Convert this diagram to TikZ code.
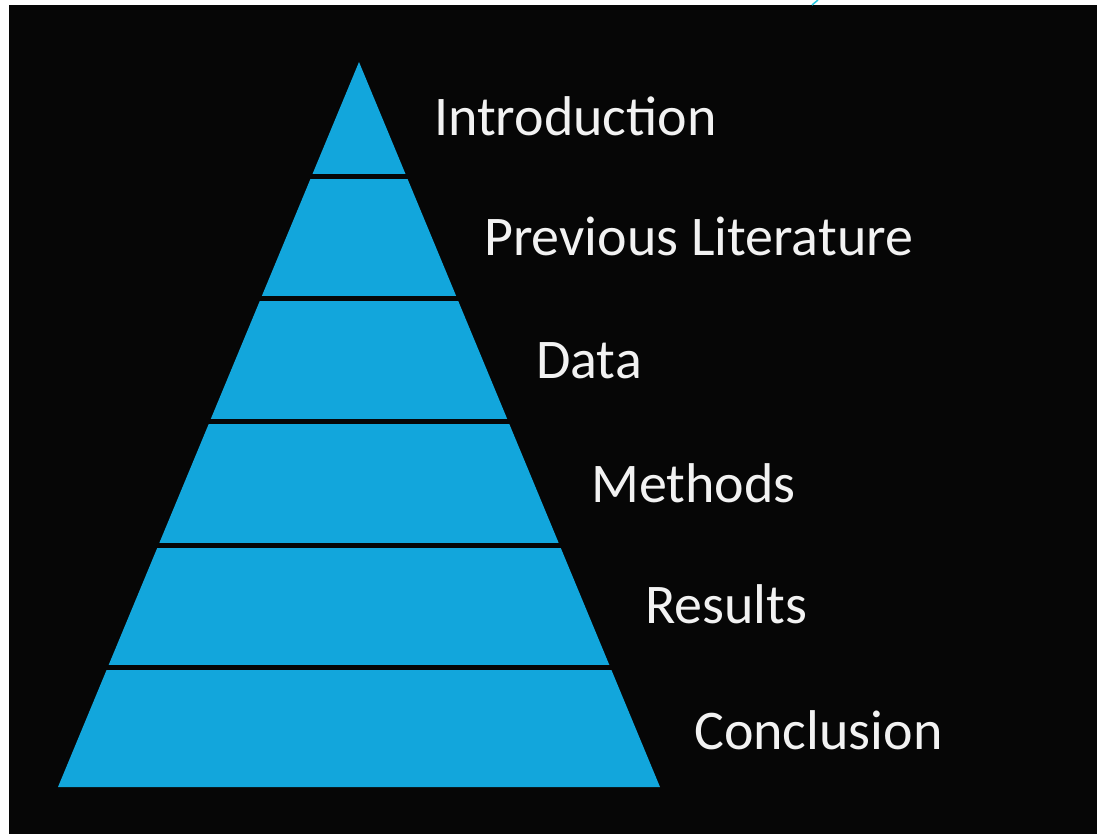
\documentclass[tikz,border=0pt]{standalone}
\usepackage{fontspec}
\setmainfont{Carlito}[Ligatures=Common]
\definecolor{pyrblue}{RGB}{18,166,220}
\definecolor{bgblack}{RGB}{6,6,6}
\definecolor{labelwhite}{RGB}{242,242,242}
\definecolor{tickcyan}{RGB}{40,200,225}
\begin{document}
\begin{tikzpicture}[x=1pt,y=-1pt,
  label/.style={anchor=base west,inner sep=0pt,text=labelwhite,font=\fontsize{56}{64}\selectfont},
  gap/.style={draw=bgblack,line width=5pt}]
\useasboundingbox (0,0) rectangle (1097,834);
\fill[white] (0,0) rectangle (1097,834);
\fill[bgblack] (9,5) rectangle (1097,834);
\draw[tickcyan,line width=1.5pt] (812,5) -- (818,0);
% pyramid
\coordinate (apex) at (359,62);
\coordinate (bl) at (58,787);
\coordinate (br) at (660,787);
\fill[pyrblue] (apex) -- (br) -- (bl) -- cycle;
\foreach \y in {177,298,421,545,667}
  \draw[gap] (40,\y) -- (680,\y);
% labels
\node[label] (intro) at (434,136) {Introduction};
\node[label] (prev) at (484,256) {Previous Literature};
\node[label] (data) at (536,378) {Data};
\node[label] (meth) at (591,502) {Methods};
\node[label] (res) at (645,623) {Results};
\node[label] (conc) at (694,749) {Conclusion};
\end{tikzpicture}
\end{document}
